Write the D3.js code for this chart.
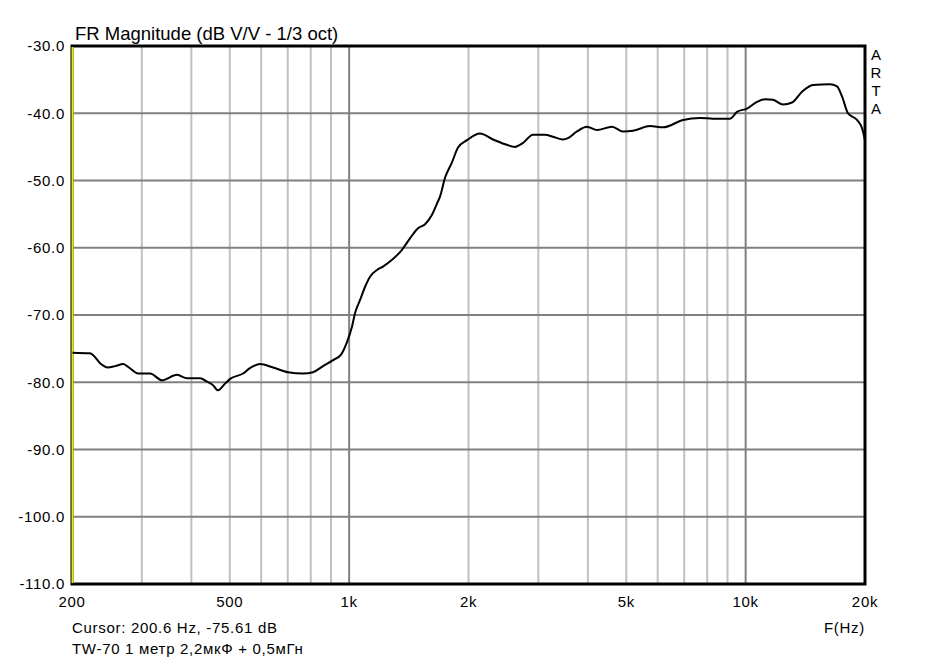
<!DOCTYPE html>
<html><head><meta charset="utf-8">
<script src="https://cdn.jsdelivr.net/npm/d3@7"></script>
<style>body{margin:0;background:#fff}svg{display:block}</style>
</head><body>
<svg id="c" width="937" height="664"></svg>
<script>
const title = "FR Magnitude (dB V/V - 1/3 oct)";
const cursorText = "Cursor: 200.6 Hz, -75.61 dB";
const noteText = "TW-70 1 метр 2,2мкФ + 0,5мГн";
const xAxisTitle = "F(Hz)";
const brand = ["A","R","T","A"];
const yTicks = [-30,-40,-50,-60,-70,-80,-90,-100,-110];
const xTickValues = [200,500,1000,2000,5000,10000,20000];
const xTickLabels = ["200","500","1k","2k","5k","10k","20k"];
const minorGrid = [300,400,500,600,700,800,900,2000,3000,4000,5000,6000,7000,8000,9000];
const majorGrid = [1000,10000];
const cursorFreq = 200.6;
const freqs = [200.6,222,238,246,257,269,277,294,315,337,368,390,421,438,453,467,483,501,540,562,596,643,701,765,811,859,911,954,988,1017,1035,1065,1097,1129,1176,1217,1283,1359,1424,1492,1554,1618,1666,1695,1745,1817,1882,1983,2138,2306,2473,2620,2746,2908,3118,3268,3462,3564,3754,3980,4218,4602,4906,5198,5740,6188,6950,7674,8274,9130,9510,10078,10682,11190,11722,12424,13092,13872,14786,16318,17000,17500,18120,19092,19652,20000];
const mags = [-75.6,-75.7,-77.4,-77.8,-77.6,-77.3,-77.7,-78.7,-78.7,-79.7,-78.9,-79.4,-79.4,-79.9,-80.4,-81.2,-80.4,-79.5,-78.7,-77.9,-77.3,-77.8,-78.5,-78.7,-78.5,-77.6,-76.7,-75.9,-74.0,-71.7,-69.7,-67.8,-65.8,-64.3,-63.3,-62.8,-61.8,-60.3,-58.6,-57.1,-56.5,-55.1,-53.4,-52.4,-49.6,-47.3,-45.1,-44.0,-43.0,-43.9,-44.6,-45.0,-44.4,-43.2,-43.2,-43.5,-43.9,-43.7,-42.7,-42.0,-42.5,-42.0,-42.7,-42.6,-41.9,-42.1,-41.0,-40.7,-40.8,-40.8,-39.8,-39.3,-38.3,-37.9,-38.0,-38.7,-38.4,-36.8,-35.8,-35.7,-36.0,-37.5,-40.0,-41.0,-42.2,-44.0];

const svg = d3.select("#c");
const L = 72, R = 865, T = 46, B = 584;
const x = d3.scaleLog().domain([200,20000]).range([L,R]);
const y = d3.scaleLinear().domain([-110,-30]).range([B,T]);
const small = "'Liberation Sans', Arial, sans-serif";
const ls = "0.7px";

const g = svg.append("g");
g.selectAll(".minor").data(minorGrid).enter().append("line")
  .attr("x1",d=>x(d)).attr("x2",d=>x(d)).attr("y1",T).attr("y2",B)
  .attr("stroke","#c0c0c0").attr("stroke-width",2);
g.selectAll(".major").data(majorGrid).enter().append("line")
  .attr("x1",d=>x(d)).attr("x2",d=>x(d)).attr("y1",T).attr("y2",B)
  .attr("stroke","#808080").attr("stroke-width",2);
g.selectAll(".hgrid").data(yTicks.slice(1,-1)).enter().append("line")
  .attr("x1",L).attr("x2",R).attr("y1",d=>y(d)).attr("y2",d=>y(d))
  .attr("stroke","#808080").attr("stroke-width",2);

// frame
svg.append("rect").attr("x",L).attr("y",T).attr("width",R-L).attr("height",B-T)
  .attr("fill","none").attr("stroke","#000").attr("stroke-width",3);
// cursor
svg.append("line").attr("x1",x(cursorFreq)).attr("x2",x(cursorFreq)).attr("y1",T+1).attr("y2",B-1)
  .attr("stroke","#e8e800").attr("stroke-width",2);

// curve
const line = d3.line().x((d,i)=>x(freqs[i])).y(d=>y(d)).curve(d3.curveMonotoneX);
svg.append("path").attr("d",line(mags)).attr("fill","none").attr("stroke","#000").attr("stroke-width",2);

// y labels
svg.selectAll(".yl").data(yTicks).enter().append("text")
  .attr("x",65).attr("y",d=>y(d)).attr("dy","0.36em").attr("text-anchor","end")
  .attr("font-family",small).attr("font-size","15px").attr("letter-spacing",ls).text(d=>d.toFixed(1));
// x labels
svg.selectAll(".xl").data(xTickValues).enter().append("text")
  .attr("x",d=>x(d)).attr("y",607).attr("text-anchor","middle")
  .attr("font-family",small).attr("font-size","15px").attr("letter-spacing",ls).text((d,i)=>xTickLabels[i]);

svg.append("text").attr("x",75).attr("y",40).attr("font-family","'Liberation Sans', Arial, sans-serif")
  .attr("font-size","18.5px").text(title);
svg.append("text").attr("x",72).attr("y",633).attr("font-family",small).attr("font-size","15px").attr("letter-spacing",ls).text(cursorText);
svg.append("text").attr("x",72).attr("y",654).attr("font-family",small).attr("font-size","15px").attr("letter-spacing",ls).text(noteText);
svg.append("text").attr("x",865).attr("y",633).attr("text-anchor","end").attr("font-family",small).attr("font-size","15px").attr("letter-spacing",ls).text(xAxisTitle);
svg.selectAll(".brand").data(brand).enter().append("text")
  .attr("x",876).attr("y",(d,i)=>59.5+i*18).attr("text-anchor","middle")
  .attr("font-family",small).attr("font-size","15px").text(d=>d);
</script>
</body></html>
